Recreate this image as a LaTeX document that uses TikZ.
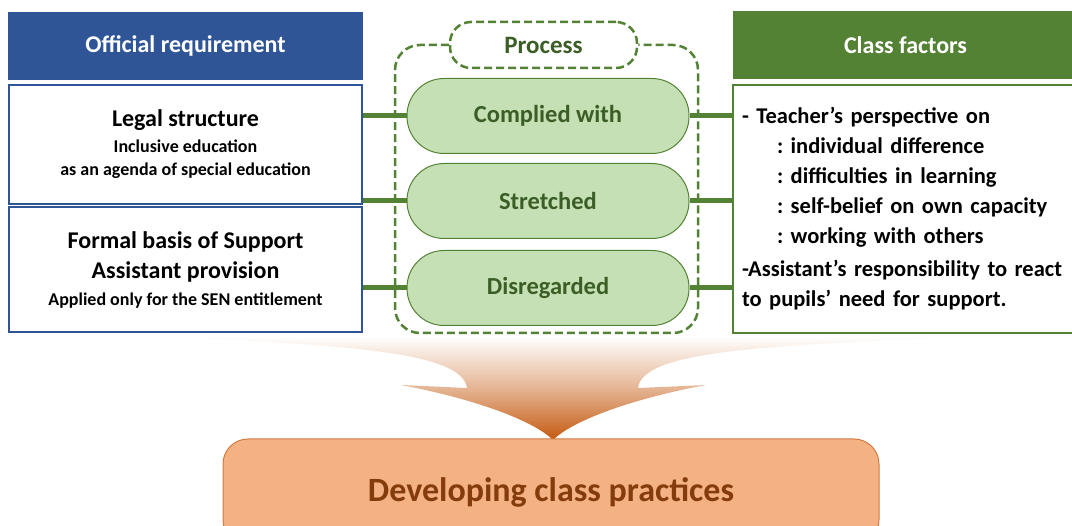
\documentclass[tikz,border=0pt]{standalone}
\usepackage{fontspec}
\setmainfont{Carlito}
\usepackage{tikz}

\definecolor{offblue}{HTML}{2F5597}
\definecolor{classgreen}{HTML}{548235}
\definecolor{pillfill}{HTML}{C5E0B4}
\definecolor{pilltext}{HTML}{3B5E26}
\definecolor{devfill}{HTML}{F4B183}
\definecolor{devtext}{HTML}{843C0C}
\definecolor{arroworange}{HTML}{C55A11}

\tikzset{
	head/.style={shape=rectangle, text=white, inner sep=0pt, minimum height=68,
		font=\bfseries\fontsize{24}{28}\selectfont},
	reqbox/.style={shape=rectangle, draw=offblue, line width=2.5pt, fill=white,
		minimum width=353, align=center, font=\bfseries\fontsize{18}{23}\selectfont},
	pill/.style={shape=rectangle, rounded corners=37, draw=classgreen, line width=1pt,
		fill=pillfill, text=pilltext, minimum width=282, minimum height=75,
		font=\bfseries\fontsize{24.5}{28}\selectfont},
	dashline/.style={draw=classgreen, line width=2.5pt, dash pattern=on 8pt off 4pt},
	link/.style={draw=classgreen, line width=5pt},
}

\begin{document}
\frenchspacing
\hyphenpenalty=10000
\begin{tikzpicture}[x=1pt, y=-1pt]
	\useasboundingbox (0,0) rectangle (1072,526);

	% funnel arrow behind the boxes
	\shade[top color=white, bottom color=arroworange, middle color=arroworange!45]
		(150,336) .. controls (350,345) and (462,352) .. (467,388)
		-- (401,385) .. controls (480,400) and (535,422) .. (553,440)
		.. controls (571,422) and (626,400) .. (706,385)
		-- (638,388) .. controls (643,352) and (750,345) .. (1000,336) -- cycle;

	\node[head, fill=offblue, minimum width=355] (offhead) at (185.5,46) {Official requirement};
	\node[head, fill=classgreen, minimum width=345] (classhead) at (905.5,45) {Class factors};

	\node[reqbox, minimum height=119] (legal) at (185.5,144.5)
		{{\fontsize{24}{28}\selectfont Legal structure}\\[3pt]Inclusive education\\as an agenda of special education};
	\node[reqbox, minimum height=125] (formal) at (185.5,269.5)
		{{\fontsize{24}{28}\selectfont Formal basis of Support}\\[7pt]{\fontsize{24}{28}\selectfont Assistant provision}\\[4pt]Applied only for the SEN entitlement};

	\node[shape=rectangle, draw=classgreen, line width=2.5pt, fill=white, inner xsep=9pt,
		minimum width=358, minimum height=248, text width=340, align=left,
		font=\bfseries\fontsize{22.5}{30}\selectfont]
		(factors) at (912,209)
		{- Teacher’s perspective on\\
		\hspace*{35pt}: individual difference\\
		\hspace*{35pt}: difficulties in learning\\
		\hspace*{35pt}: self-belief on own capacity\\
		\hspace*{35pt}: working with others\\[3pt]
		-Assistant’s responsibility to react\\
		to pupils’ need for support.};

	\node[shape=rectangle, rounded corners=21, dashline, minimum width=187, minimum height=46,
		text=pilltext, font=\bfseries\fontsize{25}{28}\selectfont] (process) at (543.5,45) {Process};
	\draw[dashline, rounded corners=25] (process.west) -- (395,45) -- (395,333)
		-- (698,333) -- (698,45) -- (process.east);

	\node[pill] (complied) at (548,116) {Complied with};
	\node[pill] (stretched) at (548,201) {Stretched};
	\node[pill] (disregarded) at (548,288) {Disregarded};

	\path[link] (complied.west -| legal.east) edge (complied.west);
	\path[link] (stretched.west -| legal.east) edge (stretched.west);
	\path[link] (disregarded.west -| legal.east) edge (disregarded.west);
	\path[link] (complied.east) edge (complied.east -| factors.west);
	\path[link] (stretched.east) edge (stretched.east -| factors.west);
	\path[link] (disregarded.east) edge (disregarded.east -| factors.west);

	\node[shape=rectangle, rounded corners=25, draw=arroworange!80, line width=1pt, fill=devfill,
		text=devtext, minimum width=656, minimum height=106,
		font=\bfseries\fontsize{34}{38}\selectfont] (develop) at (551,492) {Developing class practices};
\end{tikzpicture}
\end{document}
